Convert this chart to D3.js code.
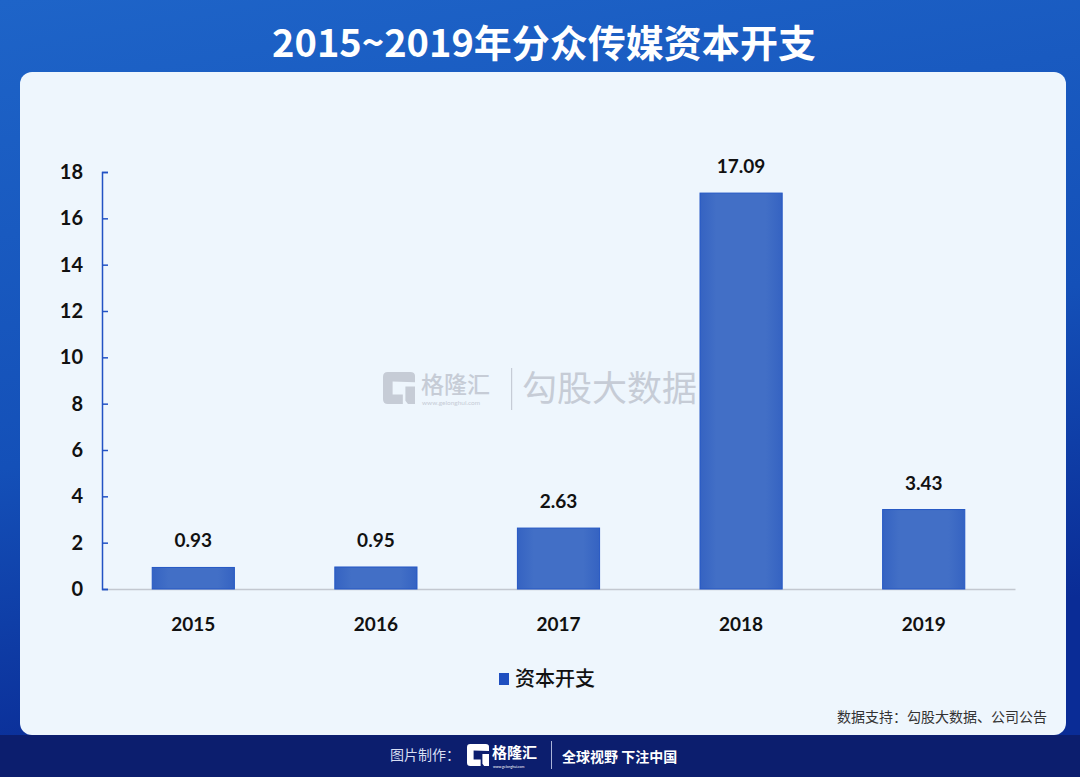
<!DOCTYPE html>
<html>
<head>
<meta charset="utf-8">
<script src="https://cdn.jsdelivr.net/npm/d3@7"></script>
<style>
  html, body { margin: 0; padding: 0; background: #0c1e6e; }
  svg { display: block; }
</style>
</head>
<body>
<div class="chart"></div>
<script>
// 画布大小
var width = 1080, height = 777;

// 数据
var years = ['2015', '2016', '2017', '2018', '2019'];
var capex = [0.93, 0.95, 2.63, 17.09, 3.43];
var yTicks = [0, 2, 4, 6, 8, 10, 12, 14, 16, 18];
var titleText = '2015~2019年分众传媒资本开支';
var seriesName = '资本开支';
var sourceText = '数据支持：勾股大数据、公司公告';

var numFont = 'Lato, "Noto Sans", sans-serif';
var cjkFont = '"Noto Sans CJK SC", "Noto Sans", sans-serif';

var svg = d3.select('.chart').append('svg')
    .attr('width', width)
    .attr('height', height);

var defs = svg.append('defs');
var bg = defs.append('linearGradient').attr('id', 'bg')
    .attr('x1', '0').attr('y1', '0').attr('x2', '0.25').attr('y2', '1');
bg.append('stop').attr('offset', '0%').attr('stop-color', '#1e64c8');
bg.append('stop').attr('offset', '60%').attr('stop-color', '#1450b8');
bg.append('stop').attr('offset', '100%').attr('stop-color', '#0a2c96');

var barGrad = defs.append('linearGradient').attr('id', 'barGrad')
    .attr('x1', '0').attr('y1', '0').attr('x2', '1').attr('y2', '0');
barGrad.append('stop').attr('offset', '0%').attr('stop-color', '#3563c2');
barGrad.append('stop').attr('offset', '20%').attr('stop-color', '#426fc6');
barGrad.append('stop').attr('offset', '80%').attr('stop-color', '#426fc6');
barGrad.append('stop').attr('offset', '100%').attr('stop-color', '#3563c2');

// 背景
svg.append('rect').attr('width', width).attr('height', 735).attr('fill', 'url(#bg)');
svg.append('rect').attr('y', 735).attr('width', width).attr('height', height - 735).attr('fill', '#0c1e6e');

// 标题
svg.append('text')
    .attr('x', 544).attr('y', 57)
    .attr('text-anchor', 'middle')
    .style('font-family', cjkFont)
    .style('font-weight', 700)
    .style('font-size', '38px')
    .style('fill', '#ffffff')
    .text(titleText);

// 面板
svg.append('rect')
    .attr('x', 20).attr('y', 72)
    .attr('width', 1046).attr('height', 663)
    .attr('rx', 12)
    .attr('fill', '#eef6fd');

// 水印
var wm = svg.append('g').attr('fill', '#c6ccd6');
function logoG(g, x, y, s, col) {
    // 简化的 G 图标
    g.append('path')
        .attr('d', 'M' + (x + s) + ',' + (y + s * 0.32) +
            ' V' + (y + s * 0.12) + ' Q' + (x + s) + ',' + y + ' ' + (x + s * 0.85) + ',' + y +
            ' H' + (x + s * 0.15) + ' Q' + x + ',' + y + ' ' + x + ',' + (y + s * 0.15) +
            ' V' + (y + s * 0.85) + ' Q' + x + ',' + (y + s) + ' ' + (x + s * 0.15) + ',' + (y + s) +
            ' H' + (x + s * 0.62) + ' V' + (y + s * 0.7) + ' H' + (x + s * 0.3) +
            ' V' + (y + s * 0.3) + ' Z' +
            ' M' + (x + s * 0.7) + ',' + (y + s * 0.45) + ' H' + (x + s) + ' V' + (y + s) +
            ' H' + (x + s * 0.78) + ' L' + (x + s * 0.7) + ',' + (y + s * 0.9) + ' Z')
        .attr('fill', col);
}
logoG(wm, 383, 372, 32, '#c6ccd6');
wm.append('text').attr('x', 421).attr('y', 393)
    .style('font-family', cjkFont).style('font-size', '23px').style('font-weight', 500)
    .text('格隆汇');
wm.append('text').attr('x', 422).attr('y', 405)
    .style('font-family', numFont).style('font-size', '6.5px')
    .text('www.gelonghui.com');
wm.append('rect').attr('x', 511).attr('y', 368).attr('width', 1.2).attr('height', 42);
wm.append('text').attr('x', 522).attr('y', 401)
    .style('font-family', cjkFont).style('font-size', '35px')
    .text('勾股大数据');

// 比例尺
var x = d3.scaleBand().domain(years).range([102, 1015]).paddingInner(0.55).paddingOuter(0.275);
var y = d3.scaleLinear().domain([0, 18]).range([589, 172]);

// x 轴
var gx = svg.append('g').attr('transform', 'translate(0,589)')
    .call(d3.axisBottom(x).tickSize(0).tickPadding(0));
gx.select('.domain').attr('stroke', '#c3c8d0').attr('stroke-width', 1.5);
gx.selectAll('text')
    .attr('y', 42)
    .attr('dy', 0)
    .style('font-family', numFont)
    .style('font-weight', 700)
    .style('font-size', '19px')
    .style('fill', '#111');

// 柱子
svg.append('g').selectAll('rect')
    .data(capex)
    .enter().append('rect')
    .attr('x', function (d, i) { return x(years[i]); })
    .attr('y', function (d) { return y(d); })
    .attr('width', x.bandwidth())
    .attr('height', function (d) { return y(0) - y(d); })
    .attr('fill', 'url(#barGrad)')
    .attr('stroke', '#2457c4')
    .attr('stroke-width', 1);

// y 轴
var gy = svg.append('g').attr('transform', 'translate(102,0)')
    .call(d3.axisRight(y).tickValues(yTicks).tickSize(6).tickFormat(d3.format('d')));
gy.select('.domain').attr('stroke', '#2252c4').attr('stroke-width', 1.5);
gy.selectAll('.tick line').attr('stroke', '#2252c4').attr('stroke-width', 1.5);
gy.selectAll('.tick text')
    .attr('x', -19)
    .attr('text-anchor', 'end')
    .style('font-family', numFont)
    .style('font-weight', 700)
    .style('font-size', '20px')
    .style('fill', '#111');

// 数值标签
svg.append('g').selectAll('text')
    .data(capex)
    .enter().append('text')
    .attr('x', function (d, i) { return x(years[i]) + x.bandwidth() / 2; })
    .attr('y', function (d) { return y(d) - 20; })
    .attr('text-anchor', 'middle')
    .style('font-family', numFont)
    .style('font-weight', 700)
    .style('font-size', '19px')
    .style('fill', '#111')
    .text(function (d) { return d.toFixed(2); });

// 图例
svg.append('rect').attr('x', 499).attr('y', 673).attr('width', 10).attr('height', 12).attr('fill', '#1f4fc0');
svg.append('text').attr('x', 515).attr('y', 686)
    .style('font-family', cjkFont).style('font-weight', 500).style('font-size', '20px').style('fill', '#111')
    .text(seriesName);

// 数据来源
svg.append('text').attr('x', 1047).attr('y', 722)
    .attr('text-anchor', 'end')
    .style('font-family', cjkFont).style('font-size', '14px').style('fill', '#333')
    .text(sourceText);

// 页脚
var ft = svg.append('g');
ft.append('text').attr('x', 390).attr('y', 760)
    .style('font-family', cjkFont).style('font-size', '14px').style('fill', '#d7def2')
    .text('图片制作：');
logoG(ft, 467, 744, 22, '#ffffff');
ft.append('text').attr('x', 492).attr('y', 758)
    .style('font-family', cjkFont).style('font-size', '15px').style('font-weight', 700).style('fill', '#ffffff')
    .text('格隆汇');
ft.append('text').attr('x', 493).attr('y', 768)
    .style('font-family', numFont).style('font-size', '3.5px').style('fill', '#ffffff')
    .text('www.gelonghui.com');
ft.append('rect').attr('x', 551).attr('y', 741).attr('width', 1).attr('height', 28).attr('fill', '#aab4d8');
ft.append('text').attr('x', 562).attr('y', 762)
    .style('font-family', cjkFont).style('font-size', '14px').style('font-weight', 700).style('fill', '#ffffff')
    .text('全球视野 下注中国');
</script>
</body>
</html>
